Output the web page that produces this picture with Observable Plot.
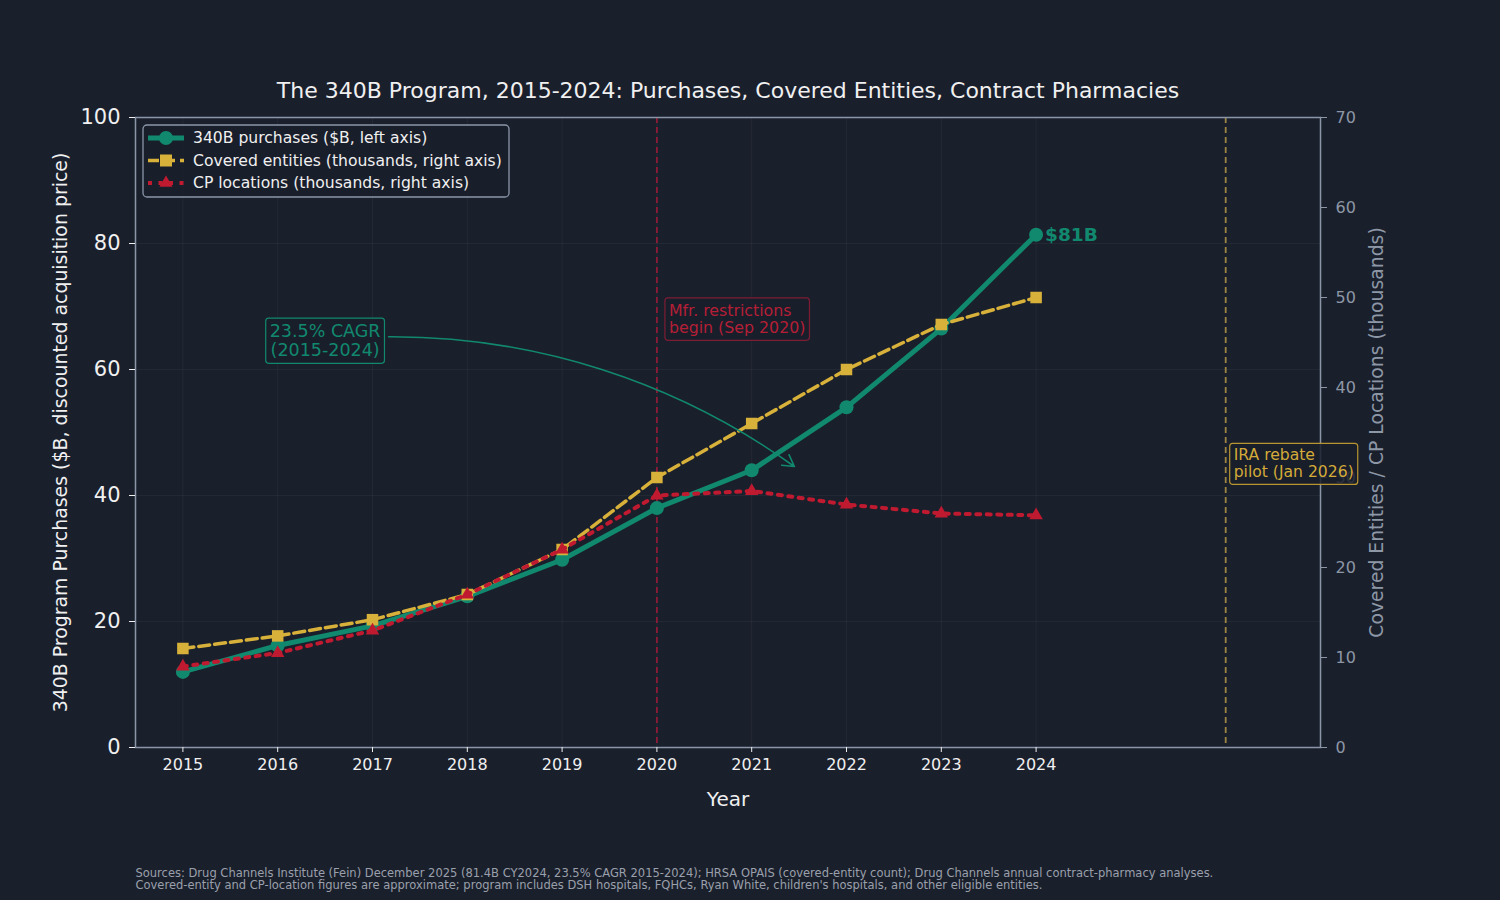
<!DOCTYPE html>
<html><head><meta charset="utf-8">
<script src="https://cdn.jsdelivr.net/npm/d3@7"></script>
<script src="https://cdn.jsdelivr.net/npm/@observablehq/plot@0.6"></script>
<style>
html,body{margin:0;padding:0;background:#1a1f2c;}
#chart{width:1500px;height:900px;}
</style></head><body><div id="chart"></div>
<script>
// ---- data ----
const years = [2015, 2016, 2017, 2018, 2019, 2020, 2021, 2022, 2023, 2024];
const purchases = [12.0, 16.2, 19.3, 24.0, 29.8, 38.0, 44.0, 54.0, 66.5, 81.4];        // $B, left axis
const coveredEntities = [11.0, 12.4, 14.2, 17.0, 22.0, 30.0, 36.0, 42.0, 47.0, 50.0];  // thousands, right axis
const cpLocations = [9.0, 10.5, 13.0, 17.0, 22.0, 28.0, 28.5, 27.0, 26.0, 25.8];       // thousands, right axis
const seriesNames = ["340B purchases ($B, left axis)", "Covered entities (thousands, right axis)", "CP locations (thousands, right axis)"];
const leftTicks = [0, 20, 40, 60, 80, 100];
const rightTicks = [0, 10, 20, 30, 40, 50, 60, 70];
const eventYears = [2020, 2026];
const titleText = "The 340B Program, 2015-2024: Purchases, Covered Entities, Contract Pharmacies";
const leftLabel = "340B Program Purchases ($B, discounted acquisition price)";
const rightLabel = "Covered Entities / CP Locations (thousands)";
const xLabel = "Year";
const sourceText = "Sources: Drug Channels Institute (Fein) December 2025 (81.4B CY2024, 23.5% CAGR 2015-2024); HRSA OPAIS (covered-entity count); Drug Channels annual contract-pharmacy analyses.\nCovered-entity and CP-location figures are approximate; program includes DSH hospitals, FQHCs, Ryan White, children's hospitals, and other eligible entities.";
const cagrText = "23.5% CAGR\n(2015-2024)";
const mfrText = "Mfr. restrictions\nbegin (Sep 2020)";
const iraText = "IRA rebate\npilot (Jan 2026)";
const endLabel = "$81B";

// ---- annotation anchors (data coordinates) ----
const cagrPos = {x: 2016.5, y: 64.6};
const cagrArrow = {x1: 2017.17, y1: 65.2, x2: 2021.45, y2: 44.6};
const mfrPos = {x: 2020, y: 68.0};
const iraPos = {x: 2026, y: 45.1};

const LEFT_MAX = 100, RIGHT_MAX = 70;
const toLeft = v => v * LEFT_MAX / RIGHT_MAX;

const BG = "#1a1f2c";
const TEAL = "#11896e";
const GOLD = "#d8b13a";
const RED = "#bf1a2f";
const FG = "#f0f0f0";
const GREY = "#8d97a6";

const purchaseData = years.map((year, i) => ({year, v: purchases[i]}));
const ceData = years.map((year, i) => ({year, v: coveredEntities[i]}));
const cpData = years.map((year, i) => ({year, v: cpLocations[i]}));

const chart = Plot.plot({
  width: 1500, height: 900,
  marginTop: 117, marginRight: 180, marginBottom: 153, marginLeft: 135,
  x: {domain: [2014.5, 2027]},
  y: {domain: [0, 100]},
  style: {background: BG, fontFamily: "DejaVu Sans", color: FG},
  marks: [
    Plot.gridX(years, {stroke: "#ffffff", strokeOpacity: 0.045}),
    Plot.gridY(leftTicks, {stroke: "#ffffff", strokeOpacity: 0.045}),
    Plot.ruleX([eventYears[0]], {stroke: "#8e1b36", strokeWidth: 1.8, strokeDasharray: "6,4"}),
    Plot.ruleX([eventYears[1]], {stroke: "#9c8443", strokeWidth: 1.8, strokeDasharray: "6,4"}),
    Plot.frame({stroke: "#8a96a8", strokeWidth: 1.5}),
    Plot.axisX(years, {tickFormat: d => String(d), fontSize: 16, tickSize: 5, tickPadding: 6, color: FG, label: null}),
    Plot.axisY(leftTicks, {anchor: "left", fontSize: 21, tickSize: 6, tickPadding: 9, color: FG, label: null}),
    Plot.axisY(rightTicks.map(toLeft), {anchor: "right", tickFormat: d => String(Math.round(d * RIGHT_MAX / LEFT_MAX)), fontSize: 16, tickSize: 6, tickPadding: 9, color: GREY, label: null}),

    // series
    Plot.line(purchaseData, {x: "year", y: "v", stroke: TEAL, strokeWidth: 5}),
    Plot.dot(purchaseData, {x: "year", y: "v", r: 7, fill: TEAL}),
    Plot.line(ceData, {x: "year", y: d => toLeft(d.v), stroke: GOLD, strokeWidth: 3.5, strokeDasharray: "11,5"}),
    Plot.dot(ceData, {x: "year", y: d => toLeft(d.v), symbol: "square", r: 6.5, fill: GOLD}),
    Plot.line(cpData, {x: "year", y: d => toLeft(d.v), stroke: RED, strokeWidth: 4, strokeDasharray: "4,6.5"}),
    Plot.dot(cpData, {x: "year", y: d => toLeft(d.v), symbol: "triangle", r: 5, fill: RED}),

    // annotations
    Plot.arrow([cagrArrow], {x1: "x1", y1: "y1", x2: "x2", y2: "y2", bend: 18, stroke: TEAL, strokeWidth: 1.6, headLength: 12}),
    Plot.text([cagrText], {text: d => d, x: cagrPos.x, y: cagrPos.y, fontSize: 17.5, fill: TEAL, lineHeight: 1.1}),
    Plot.text([mfrText], {text: d => d, x: mfrPos.x, y: mfrPos.y, dx: 12, textAnchor: "start", fontSize: 15.8, fill: "#b51f36", lineHeight: 1.1}),
    Plot.text([iraText], {text: d => d, x: iraPos.x, y: iraPos.y, dx: 8, textAnchor: "start", fontSize: 15.6, fill: "#d4ab38", lineHeight: 1.1}),
    Plot.text(purchaseData.slice(-1), {x: "year", y: "v", text: () => endLabel, dx: 9, textAnchor: "start", fontSize: 18.5, fontWeight: "bold", fill: TEAL}),

    // titles & labels
    Plot.text([titleText], {text: d => d, frameAnchor: "top", dy: -27, lineAnchor: "middle", fontSize: 22, fill: FG}),
    Plot.text([xLabel], {text: d => d, frameAnchor: "bottom", dy: 52, lineAnchor: "middle", fontSize: 20, fill: FG}),
    Plot.text([leftLabel], {text: d => d, frameAnchor: "left", dx: -75, rotate: -90, textAnchor: "middle", lineAnchor: "middle", fontSize: 18.9, fill: FG}),
    Plot.text([rightLabel], {text: d => d, frameAnchor: "right", dx: 56, rotate: -90, textAnchor: "middle", lineAnchor: "middle", fontSize: 18.8, fill: GREY}),
    Plot.text([sourceText], {text: d => d, frameAnchor: "bottom-left", dy: 121, textAnchor: "start", lineAnchor: "top", fontSize: 11.5, lineHeight: 1.05, fill: "#9aa0ab"})
  ]
});

document.getElementById("chart").appendChild(chart);

// boxes around annotation texts
const svg = d3.select(chart);
function boxAround(startsWith, stroke, pad) {
  svg.selectAll("text").filter(function() { return this.textContent.startsWith(startsWith); }).each(function() {
    const b = this.getBBox();
    d3.select(this.parentNode).insert("rect", () => this)
      .attr("transform", this.getAttribute("transform"))
      .attr("x", b.x - pad).attr("y", b.y - pad + 1)
      .attr("width", b.width + 2 * pad).attr("height", b.height + 2 * pad - 2)
      .attr("rx", 3).attr("fill", BG).attr("fill-opacity", 0.85)
      .attr("stroke", stroke).attr("stroke-width", 1.2);
  });
}
boxAround("23.5%", TEAL, 4);
boxAround("Mfr.", "#7c1d34", 4);
boxAround("IRA", "#b8952f", 4);

// legend
const legend = svg.append("g").attr("transform", "translate(143,125)");
legend.append("rect").attr("width", 366).attr("height", 72).attr("rx", 4)
  .attr("fill", BG).attr("fill-opacity", 0.85).attr("stroke", "#8a96a8").attr("stroke-width", 1.3);
const legendStyles = [
  {color: TEAL, width: 5, dash: null, symbol: d3.symbolCircle, size: Math.PI * 49},
  {color: GOLD, width: 3.5, dash: "11,5", symbol: d3.symbolSquare, size: 144},
  {color: RED, width: 4, dash: "4,6.5", symbol: d3.symbolTriangle, size: 75}
];
seriesNames.forEach((name, i) => {
  const st = legendStyles[i];
  const row = legend.append("g").attr("transform", `translate(0,${13 + i * 22.5})`);
  row.append("line").attr("x1", 5).attr("x2", 41).attr("y1", 0).attr("y2", 0)
    .attr("stroke", st.color).attr("fill", "none")
    .attr("stroke-width", st.width).attr("stroke-dasharray", st.dash);
  row.append("path").attr("transform", "translate(23,0)")
    .attr("d", d3.symbol(st.symbol, st.size)()).attr("fill", st.color);
  row.append("text").attr("x", 50).attr("dy", "0.35em").attr("font-size", 15.6)
    .attr("text-anchor", "start").attr("fill", FG).attr("font-family", "DejaVu Sans").text(name);
});
</script>
</body></html>
